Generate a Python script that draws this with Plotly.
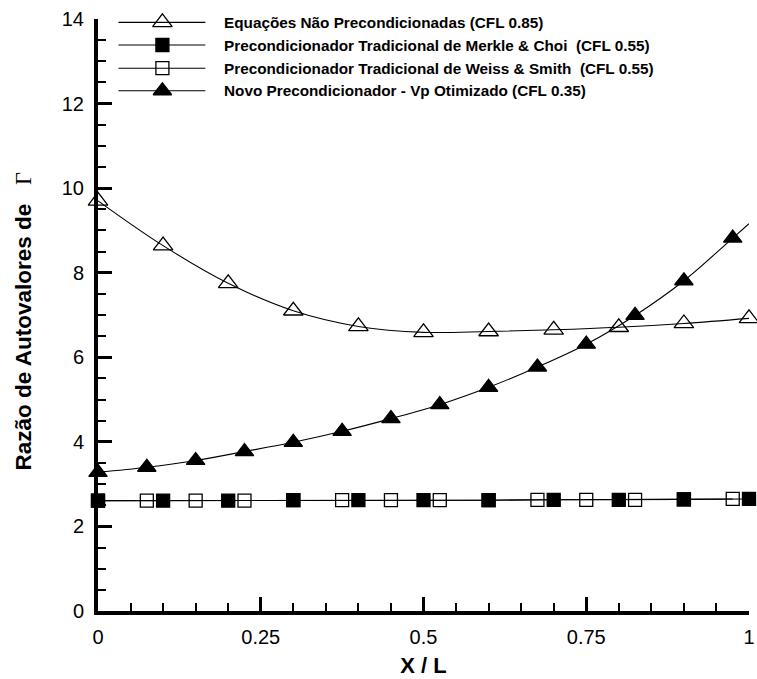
import plotly.graph_objects as go

# ---------------- data ----------------
x_open_tri = [0.0, 0.1, 0.2, 0.3, 0.4, 0.5, 0.6, 0.7, 0.8, 0.9, 1.0]
y_open_tri = [9.70, 8.64, 7.75, 7.10, 6.73, 6.59, 6.61, 6.65, 6.71, 6.80, 6.92]

x_fill_sq = [0.0, 0.1, 0.2, 0.3, 0.4, 0.5, 0.6, 0.7, 0.8, 0.9, 1.0]
y_fill_sq = [2.61, 2.61, 2.61, 2.62, 2.62, 2.62, 2.62, 2.63, 2.63, 2.64, 2.65]

x_open_sq = [0.0, 0.075, 0.15, 0.225, 0.3, 0.375, 0.45, 0.525, 0.6, 0.675, 0.75, 0.825, 0.9, 0.975]
y_open_sq = [2.61, 2.61, 2.61, 2.61, 2.62, 2.62, 2.62, 2.62, 2.62, 2.63, 2.63, 2.63, 2.64, 2.65]

x_fill_tri = [0.0, 0.075, 0.15, 0.225, 0.3, 0.375, 0.45, 0.525, 0.6, 0.675, 0.75, 0.825, 0.9, 0.975, 1.0]
y_fill_tri = [3.28, 3.40, 3.56, 3.77, 3.99, 4.25, 4.55, 4.88, 5.29, 5.77, 6.31, 6.99, 7.81, 8.82, 9.16]
fill_tri_marked = [True] * 14 + [False]  # the last point is only the line's end

series_names = [
    "Equações Não Precondicionadas (CFL 0.85)",
    "Precondicionador Tradicional de Merkle & Choi \u00a0(CFL 0.55)",
    "Precondicionador Tradicional de Weiss & Smith \u00a0(CFL 0.55)",
    "Novo Precondicionador - Vp Otimizado (CFL 0.35)",
]
series_symbols = ["triangle-up-open", "square", "square-open", "triangle-up"]
series_sizes = [17, 13, 13, 16]

x_ticks = [0, 0.25, 0.5, 0.75, 1]
x_tick_text = ["0", "0.25", "0.5", "0.75", "1"]
y_ticks = [0, 2, 4, 6, 8, 10, 12, 14]

x_title = "<b>X / L</b>"
y_title = ("<b>Razão de Autovalores de</b>\u00a0\u00a0\u00a0"
           "<span style='font-family:\"Times New Roman\",\"Liberation Serif\",serif'>Γ</span>")

FONT = "Arial, 'Liberation Sans', sans-serif"

# figure geometry (pixels)
W, H = 757, 679
L, R, T, B = 97.5, 7.5, 19.3, 68
PW, PH = W - L - R, H - T - B

fig = go.Figure()

line_style = dict(color="black", width=1.1)


def marker_style(i):
    return dict(symbol=series_symbols[i], size=series_sizes[i], color="black",
                opacity=1, line=dict(color="black", width=1.3))


fig.add_trace(go.Scatter(
    x=x_open_tri, y=y_open_tri, mode="lines+markers",
    line=dict(shape="spline", smoothing=1.0, **line_style),
    marker=marker_style(0), cliponaxis=False, showlegend=False))

fig.add_trace(go.Scatter(
    x=x_fill_sq, y=y_fill_sq, mode="lines",
    line=line_style, cliponaxis=False, showlegend=False))
fig.add_trace(go.Scatter(
    x=x_open_sq, y=y_open_sq, mode="lines+markers",
    line=line_style, marker=marker_style(2), cliponaxis=False, showlegend=False))
fig.add_trace(go.Scatter(
    x=x_fill_sq, y=y_fill_sq, mode="markers",
    marker=marker_style(1), cliponaxis=False, showlegend=False))

fig.add_trace(go.Scatter(
    x=x_fill_tri, y=y_fill_tri, mode="lines",
    line=dict(shape="spline", smoothing=1.0, **line_style),
    cliponaxis=False, showlegend=False))
fig.add_trace(go.Scatter(
    x=[xv for xv, m in zip(x_fill_tri, fill_tri_marked) if m],
    y=[yv for yv, m in zip(y_fill_tri, fill_tri_marked) if m],
    mode="markers", marker=marker_style(3), cliponaxis=False, showlegend=False))

# ---------------- custom legend (layout positions in pixels) ----------------
leg_rows_px = [22.7, 45.3, 68.5, 91.0]
leg_line_x0, leg_line_x1, leg_mark_x, leg_text_x = 118, 205, 162, 222


def px_to_paper_x(px):
    return (px - L) / PW


def px_to_paper_y(py):
    return (H - B - py) / PH


for i, name in enumerate(series_names):
    py = leg_rows_px[i]
    fig.add_shape(type="line", xref="paper", yref="paper",
                  x0=px_to_paper_x(leg_line_x0), x1=px_to_paper_x(leg_line_x1),
                  y0=px_to_paper_y(py), y1=px_to_paper_y(py),
                  line=dict(color="black", width=1.1))
    fig.add_trace(go.Scatter(
        x=[px_to_paper_x(leg_mark_x)], y=[px_to_paper_y(py)],
        xaxis="x2", yaxis="y2", mode="markers", marker=marker_style(i),
        cliponaxis=False, showlegend=False, hoverinfo="skip"))
    fig.add_annotation(text="<b>" + name + "</b>", xref="paper", yref="paper",
                       x=px_to_paper_x(leg_text_x), y=px_to_paper_y(py),
                       xanchor="left", yanchor="middle", showarrow=False,
                       font=dict(family=FONT, size=15.3, color="black"))

# y-axis title
fig.add_annotation(text=y_title, xref="paper", yref="paper",
                   x=px_to_paper_x(23), y=px_to_paper_y(321),
                   xanchor="center", yanchor="middle", textangle=-90, showarrow=False,
                   font=dict(family=FONT, size=22.5, color="black"))

axis_common = dict(
    showgrid=False, zeroline=False, showline=True, linecolor="black", linewidth=4,
    ticks="inside", ticklen=14, tickwidth=3, tickcolor="black",
    tickfont=dict(family=FONT, size=20, color="black"),
    mirror=False, automargin=False,
)

fig.update_layout(
    width=W, height=H,
    margin=dict(l=L, r=R, t=T, b=B, pad=0, autoexpand=False),
    paper_bgcolor="white", plot_bgcolor="white",
    showlegend=False,
    xaxis=dict(range=[0, 1], tickvals=x_ticks, ticktext=x_tick_text,
               minor=dict(dtick=0.05, ticks="inside", ticklen=8, tickwidth=1.5, tickcolor="black"),
               title=dict(text=x_title, font=dict(family=FONT, size=22, color="black"),
                          standoff=12),
               ticklabelstandoff=5,
               **axis_common),
    yaxis=dict(range=[0, 14], tickvals=y_ticks,
               minor=dict(dtick=0.5, ticks="inside", ticklen=8, tickwidth=1.5, tickcolor="black"),
               ticklabelstandoff=6,
               **axis_common),
    xaxis2=dict(overlaying="x", range=[0, 1], visible=False, fixedrange=True),
    yaxis2=dict(overlaying="y", range=[0, 1], visible=False, fixedrange=True),
)

fig.write_html("out.html")
